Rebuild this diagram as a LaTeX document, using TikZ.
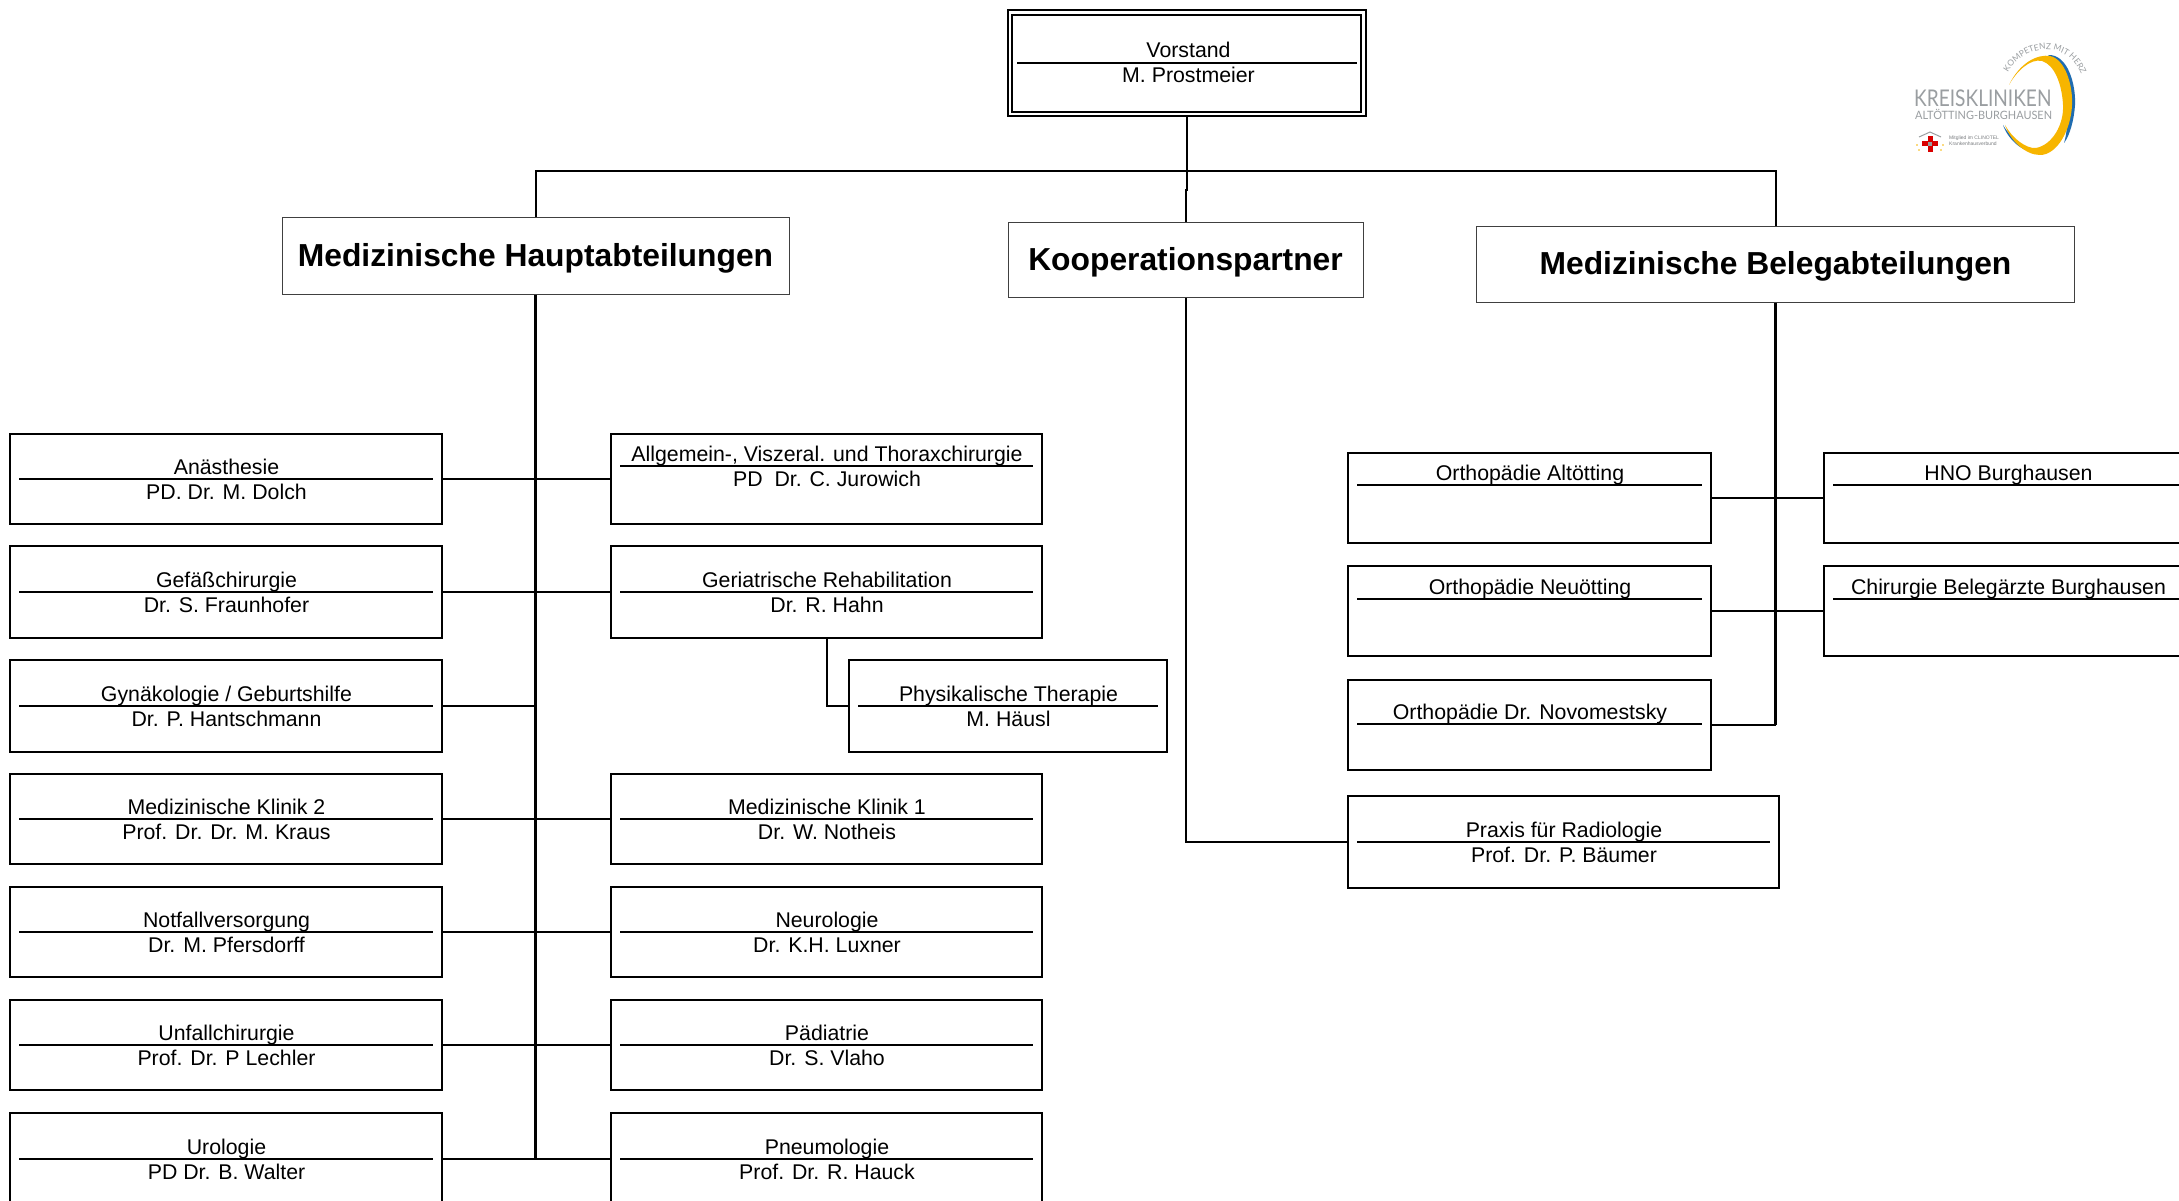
\documentclass[tikz,border=0pt]{standalone}
\usepackage{fontspec}
\usepackage{graphicx}
\setmainfont{Liberation Sans}
\newfontfamily\logofont{Lato}
\usetikzlibrary{decorations.text}
\definecolor{logogray}{HTML}{9A9EA1}
\definecolor{logoyellow}{HTML}{F7B500}
\definecolor{logoblue}{HTML}{1F6CB0}
\tikzset{
  orgbox/.style={draw=black,line width=2pt,fill=white,inner sep=0pt,rectangle},
  orgrule/.style={draw=black,line width=2pt},
  conn/.style={draw=black,line width=2pt},
  spine/.style={draw=black,line width=3pt},
  title/.style={anchor=base,inner sep=0pt,font=\fontsize{21.3}{23}\selectfont},
  headbox/.style={draw=black!75,line width=1pt,fill=white,inner sep=0pt,rectangle,text=black,font=\fontsize{31.8}{34}\selectfont\bfseries},
}
% name, x1, y1, x2, y2, rule y, rule inset, title, person
\newcommand{\orgunit}[9]{%
  \node[orgbox,minimum width=#4pt-#2pt,minimum height=#5pt-#3pt] (#1) at ({(#2+#4)/2},{(#3+#5)/2}) {};
  \draw[orgrule] ({#2+#7},#6) -- ({#4-#7},#6);
  \node[title] (#1t) at ({(#2+#4)/2+0.5},{#6-4.5}) {#8};
  \node[title] (#1p) at ({(#2+#4)/2+0.5},{#6+20.2}) {#9};
}
\newcommand{\headtext}[1]{\raisebox{-2pt}[\height][\depth]{#1}}
\begin{document}
\begin{tikzpicture}[x=1pt,y=-1pt]
\useasboundingbox (0,0) rectangle (2179,1201);
\clip (0,0) rectangle (2179,1201);
\fill[white] (0,0) rectangle (2179,1201);

% head boxes
\node[orgbox,minimum width=358pt,minimum height=106pt] (vorA) at (1187,63) {};
\node[orgbox,minimum width=349pt,minimum height=97pt] (vor) at (1186.5,63.5) {};
\draw[orgrule] (1017,63) -- (1357,63);
\node[title] (vort) at (1188.5,58) {Vorstand};
\node[title] (vorp) at (1188.5,82.5) {M. Prostmeier};
\node[headbox,minimum width=507pt,minimum height=76pt] (haupt) at (535.5,256) {\headtext{Medizinische Hauptabteilungen}};
\node[headbox,minimum width=355pt,minimum height=75pt] (koop) at (1185.5,260) {\headtext{Kooperationspartner}};
\node[headbox,minimum width=598pt,minimum height=75pt] (beleg) at (1775.5,264.5) {\headtext{Medizinische Belegabteilungen}};

\coordinate (bus) at (1186,171);
\coordinate (jog) at (1187,190);
\coordinate (spineEnd) at (535.5,1159);
\coordinate (belegEnd) at (1775.5,725);

% left column
\orgunit{ana}{10}{434}{442}{524}{479}{9}{Anästhesie}{PD. Dr. M. Dolch}
\orgunit{gef}{10}{546}{442}{638}{592}{9}{Gefäßchirurgie}{Dr. S. Fraunhofer}
\orgunit{gyn}{10}{660}{442}{752}{706}{9}{Gynäkologie / Geburtshilfe}{Dr. P. Hantschmann}
\orgunit{med2}{10}{774}{442}{864}{819}{9}{Medizinische Klinik 2}{Prof. Dr. Dr. M. Kraus}
\orgunit{not}{10}{887}{442}{977}{932}{9}{Notfallversorgung}{Dr. M. Pfersdorff}
\orgunit{unf}{10}{1000}{442}{1090}{1045}{9}{Unfallchirurgie}{Prof. Dr. P Lechler}
\orgunit{uro}{10}{1113}{442}{1205}{1159}{9}{Urologie}{PD Dr. B. Walter}

% right column
\orgunit{all}{611}{434}{1042}{524}{466}{9}{Allgemein-, Viszeral. und Thoraxchirurgie}{PD\ \ Dr. C. Jurowich}
\orgunit{ger}{611}{546}{1042}{638}{592}{9}{Geriatrische Rehabilitation}{Dr. R. Hahn}
\orgunit{phy}{849}{660}{1167}{752}{706}{9}{Physikalische Therapie}{M. Häusl}
\orgunit{med1}{611}{774}{1042}{864}{819}{9}{Medizinische Klinik 1}{Dr. W. Notheis}
\orgunit{neu}{611}{887}{1042}{977}{932}{9}{Neurologie}{Dr. K.H. Luxner}
\orgunit{pae}{611}{1000}{1042}{1090}{1045}{9}{Pädiatrie}{Dr. S. Vlaho}
\orgunit{pne}{611}{1113}{1042}{1205}{1159}{9}{Pneumologie}{Prof. Dr. R. Hauck}

% Belegabteilungen
\orgunit{ora}{1348}{453}{1711}{543}{485}{9}{Orthopädie Altötting}{}
\orgunit{orn}{1348}{566}{1711}{656}{599}{9}{Orthopädie Neuötting}{}
\orgunit{ord}{1348}{680}{1711}{770}{724}{9}{Orthopädie Dr. Novomestsky}{}
\orgunit{hno}{1824}{453}{2192}{543}{485}{9}{HNO Burghausen}{}
\orgunit{chi}{1824}{566}{2192}{656}{599}{9}{Chirurgie Belegärzte Burghausen}{}
\orgunit{pra}{1348}{796}{1779}{888}{842}{9}{Praxis für Radiologie}{Prof. Dr. P. Bäumer}

% connectors
\draw[conn] (vorA.south) -- (jog) -| (koop.north);
\draw[conn] (haupt.north) |- (bus) -| (beleg.north);
\draw[spine] (haupt.south) -- (spineEnd);
\draw[spine] (beleg.south) -- (belegEnd);
\draw[conn] (ana.east) -- (all.west);
\draw[conn] (gef.east) -- (ger.west);
\draw[conn] (gyn.east) -- (gyn.east -| spineEnd);
\draw[conn] (med2.east) -- (med1.west);
\draw[conn] (not.east) -- (neu.west);
\draw[conn] (unf.east) -- (pae.west);
\draw[conn] (uro.east) -- (pne.west);
\draw[conn] (ger.south) |- (phy.west);
\draw[conn] (ora.east) -- (hno.west);
\draw[conn] (orn.east) -- (chi.west);
\draw[conn] (ord.east) -| (belegEnd);
\draw[conn] (koop.south) |- (pra.west);

% logo
\fill[logoblue] (2003,125) .. controls (2008,140) and (2025,155) .. (2038,151)
  .. controls (2026,149) and (2012,140) .. (2003,125) -- cycle;
\fill[logoblue] (2048,55) .. controls (2068,54) and (2076,85) .. (2075,105)
  .. controls (2074,120) and (2070,135) .. (2064,143)
  .. controls (2070,125) and (2070,70) .. (2048,55) -- cycle;
\fill[logoyellow] (2009,85) .. controls (2020,62) and (2038,54) .. (2050,56)
  .. controls (2065,59) and (2073,85) .. (2072,105)
  .. controls (2071,130) and (2057,155) .. (2040,155)
  .. controls (2025,155) and (2010,140) .. (2005,125)
  .. controls (2012,138) and (2026,149) .. (2036,148)
  .. controls (2052,145) and (2064,125) .. (2063,105)
  .. controls (2062,85) and (2055,65) .. (2042,61)
  .. controls (2030,58) and (2016,72) .. (2009,85) -- cycle;
\path[postaction={decorate,decoration={text along path,text align=center,
  text={|\logofont\fontsize{8.4}{9}\selectfont\color{logogray}|KOMPETENZ MIT HERZ}}}]
  (2007,74) .. controls (2022,44) and (2068,38) .. (2082,76);
\node[inner sep=0pt,anchor=base west,text=logogray,font=\logofont\fontsize{23}{24}\selectfont] (logoA) at (1914,107) {\scalebox{0.83}[1]{KREISKLINIKEN}};
\node[inner sep=0pt,anchor=base west,text=logogray,font=\logofont\fontsize{11.5}{12}\selectfont] (logoB) at (1915,120) {\scalebox{0.95}[1]{ALTÖTTING-BURGHAUSEN}};
\draw[logogray,line width=1pt] (1919,137) -- (1930,132) -- (1941,137);
\fill[red!85!black] (1927.5,136) rectangle (1932.5,152);
\fill[red!85!black] (1922,141.5) rectangle (1938,146.5);
\fill[logogray] (1928,142) rectangle (1932,146);
\foreach \p in {(1917,145),(1919,150),(1943,145),(1941,150)} \fill[logoyellow] \p circle (0.9);
\node[inner sep=0pt,anchor=base west,text=logogray!80!black,font=\fontsize{5}{5}\selectfont] (logoC) at (1949,140) {Mitglied im CLINOTEL};
\node[inner sep=0pt,anchor=base west,text=logogray!80!black,font=\fontsize{5}{5}\selectfont] (logoD) at (1949,146) {Krankenhausverbund};
\end{tikzpicture}
\end{document}
